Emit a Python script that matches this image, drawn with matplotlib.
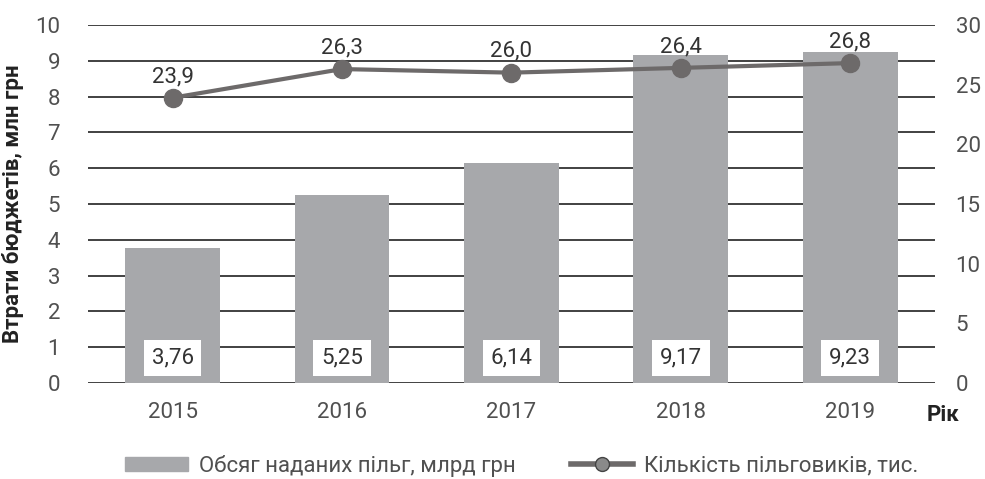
import matplotlib.pyplot as plt
from matplotlib.lines import Line2D
from matplotlib.patches import Patch

plt.rcParams['font.family'] = ['Roboto', 'DejaVu Sans']

years = ["2015", "2016", "2017", "2018", "2019"]
benefits = [3.76, 5.25, 6.14, 9.17, 9.23]
beneficiaries = [23.9, 26.3, 26.0, 26.4, 26.8]

bar_color = "#a7a8ab"
line_color = "#6d6a6a"
text_color = "#505050"

fig = plt.figure(figsize=(9.85, 4.79), dpi=100)
ax = fig.add_axes([0.0893, 0.2004, 0.8597, 0.7476])
x = range(len(years))

ax.set_axisbelow(True)
ax.yaxis.grid(True, color="#333333", linewidth=1.3)
ax.bar(x, benefits, width=0.56, color=bar_color, zorder=2)
for i, v in enumerate(benefits):
    ax.text(i, 0.7, f"{v:.2f}".replace(".", ","), ha="center", va="center",
            fontsize=16, color="#333333", zorder=4,
            bbox=dict(boxstyle="square,pad=0.35", fc="white", ec="none"))

ax.set_xlim(-0.5, 4.5)
ax.set_ylim(0, 10)
ax.set_yticks(range(0, 11))
ax.set_xticks(list(x))
ax.set_xticklabels(years)
for s in ax.spines.values():
    s.set_visible(False)
ax.tick_params(length=0, labelsize=16, colors=text_color, pad=14)
ax.tick_params(axis="y", pad=20)
ax.set_ylabel("Втрати бюджетів, млн грн", fontsize=16, fontweight="bold",
              color="#222222", labelpad=8)

ax2 = ax.twinx()
ax2.plot(x, beneficiaries, color=line_color, linewidth=3, marker="o",
         markersize=13, markerfacecolor=line_color, markeredgecolor=line_color, zorder=5)
for i, v in enumerate(beneficiaries):
    ax2.text(i, v + 0.9, f"{v:.1f}".replace(".", ","), ha="center", va="bottom",
             fontsize=16, color="#333333")
ax2.set_ylim(0, 30)
ax2.set_yticks(range(0, 31, 5))
for s in ax2.spines.values():
    s.set_visible(False)
ax2.tick_params(length=0, labelsize=16, colors=text_color, pad=15)

fig.text(0.957, 0.133, "Рік", fontsize=16, fontweight="bold", color="#222222",
         ha="center", va="center")

handles = [Patch(color=bar_color),
           Line2D([], [], color=line_color, linewidth=4, marker="o", markersize=10,
                  markerfacecolor="#8a8a8a", markeredgecolor="#444444")]
labels = ["Обсяг наданих пільг, млрд грн", "Кількість пільговиків, тис."]
fig.legend(handles, labels, loc="center", bbox_to_anchor=(0.53, 0.028), ncol=2,
           frameon=False, fontsize=16, labelcolor=text_color, handlelength=2.8,
           handleheight=0.6, columnspacing=2.5, handletextpad=0.5)

fig.savefig("out.png", dpi=100)
